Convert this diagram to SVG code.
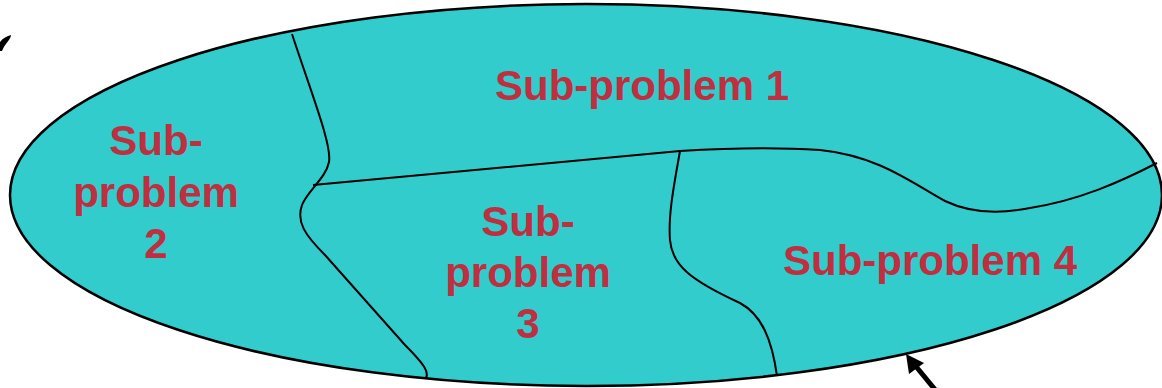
<svg xmlns="http://www.w3.org/2000/svg" width="1162" height="388" viewBox="0 0 1162 388">
<style>
.lbl{font-family:"Liberation Sans",Arial,sans-serif;font-weight:bold;font-size:42px;fill:#BF2F3F;text-anchor:middle}
.div{fill:none;stroke:#000;stroke-width:2}
</style>
<rect width="1162" height="388" fill="#fff"/>
<g id="problem">
<ellipse cx="586" cy="195" rx="576" ry="191" fill="#33CCCC" stroke="#000" stroke-width="2.5"/>
</g>
<g id="connectors">
<path class="div" d="M292,34 C312,95 332,145 329,162 C326,178 308,190 302,205 C296,222 305,235 325,255 L405,345 C425,365 429,372 426,378"/>
<path class="div" d="M313,185 L680,151 Q760,146 820,150 C880,156 915,185 945,201 C970,213 1000,214 1030,208 C1080,200 1120,182 1157,163"/>
<path class="div" d="M680,151 C674,185 668,215 670,240 C672,265 690,280 740,303 C762,315 772,340 777,376"/>
<line x1="937" y1="392" x2="914" y2="364" stroke="#000" stroke-width="5"/>
<polygon points="906,354 924,363 909,374" fill="#000"/>
<path d="M0,42 C3,38 7,36 11,35 C11,38 8,41 6,44 C4,46 3,49 2,51 L0,51 Z" fill="#000"/>
</g>
<g id="sub1"><text class="lbl" x="642" y="100">Sub-problem 1</text></g>
<g id="sub2"><text class="lbl" x="156" y="155">Sub-</text><text class="lbl" x="156" y="207">problem</text><text class="lbl" x="156" y="258">2</text></g>
<g id="sub3"><text class="lbl" x="528" y="236">Sub-</text><text class="lbl" x="528" y="287">problem</text><text class="lbl" x="528" y="338">3</text></g>
<g id="sub4"><text class="lbl" x="930" y="275">Sub-problem 4</text></g>
</svg>
